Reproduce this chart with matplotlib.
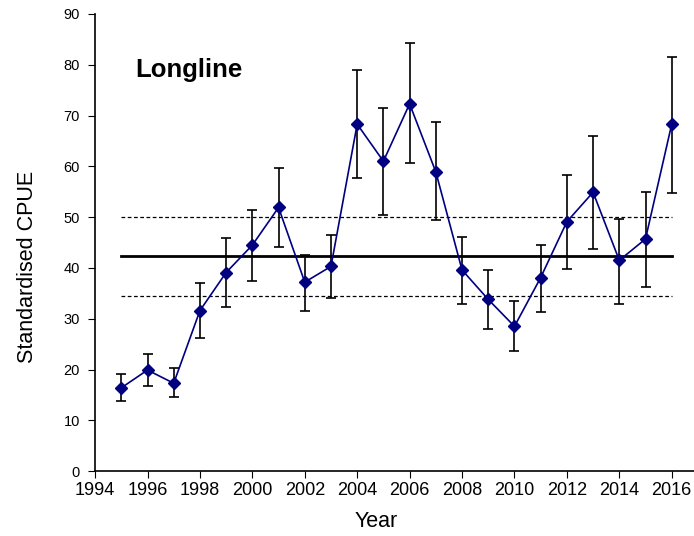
import matplotlib.pyplot as plt

# Standardised CPUE, longline
anios = [1995, 1996, 1997, 1998, 1999, 2000, 2001, 2002, 2003, 2004, 2005,
         2006, 2007, 2008, 2009, 2010, 2011, 2012, 2013, 2014, 2015, 2016]
cpue = [16.4, 19.9, 17.3, 31.6, 39.1, 44.5, 51.9, 37.2, 40.3, 68.3, 61.0,
        72.3, 58.9, 39.6, 33.8, 28.5, 38.1, 49.1, 54.9, 41.5, 45.7, 68.3]
limite_sup = [19.2, 23.1, 20.3, 37.0, 45.9, 51.5, 59.6, 42.6, 46.5, 79.0, 71.5,
              84.2, 68.7, 46.1, 39.5, 33.4, 44.6, 58.3, 66.0, 49.6, 54.9, 81.6]
limite_inf = [13.8, 16.7, 14.5, 26.2, 32.3, 37.4, 44.2, 31.6, 34.1, 57.8, 50.5,
              60.6, 49.4, 33.0, 28.0, 23.6, 31.3, 39.7, 43.7, 33.0, 36.2, 54.8]

media = 42.3
media_sup = 50.1
media_inf = 34.4

err_abajo = [c - b for c, b in zip(cpue, limite_inf)]
err_arriba = [a - c for a, c in zip(limite_sup, cpue)]

plt.rcParams['font.family'] = ['Liberation Sans', 'DejaVu Sans']

fig = plt.figure(figsize=(6.94, 5.36), dpi=100)
ax = fig.add_axes([0.137, 0.121, 0.863, 0.853])

ax.plot([anios[0], anios[-1]], [media, media], color='black', lw=2)
ax.plot([anios[0], anios[-1]], [media_sup, media_sup], color='black', lw=0.9, ls=(0, (3, 2)))
ax.plot([anios[0], anios[-1]], [media_inf, media_inf], color='black', lw=0.9, ls=(0, (3, 2)))

ax.errorbar(anios, cpue, yerr=[err_abajo, err_arriba], fmt='none',
            ecolor='black', elinewidth=1.2, capsize=3.5, capthick=1.2, zorder=3)
ax.plot(anios, cpue, color='#000080', lw=1.2, marker='D', markersize=6.5,
        markerfacecolor='#000080', markeredgecolor='#000080', zorder=4)

ax.set_xlim(1994, 2016.85)
ax.set_ylim(0, 90)
ax.set_xticks(range(1994, 2017, 2))
ax.set_yticks(range(0, 91, 10))
ax.tick_params(axis='x', labelsize=13, length=5, direction='out', pad=3)
ax.tick_params(axis='y', labelsize=10.5, length=5, direction='out', pad=6)

ax.spines['top'].set_visible(False)
ax.spines['right'].set_visible(False)
ax.spines['left'].set_linewidth(1.2)
ax.spines['bottom'].set_linewidth(1.2)

ax.set_xlabel('Year', fontsize=15.5)
ax.xaxis.set_label_coords(0.469, -0.088)
ax.set_ylabel('Standardised CPUE', fontsize=15.5)
ax.yaxis.set_label_coords(-0.095, 0.446)

ax.text(1995.55, 77.6, 'Longline', fontsize=18.5, fontweight='bold', va='baseline')

fig.savefig('out.png', dpi=100)
